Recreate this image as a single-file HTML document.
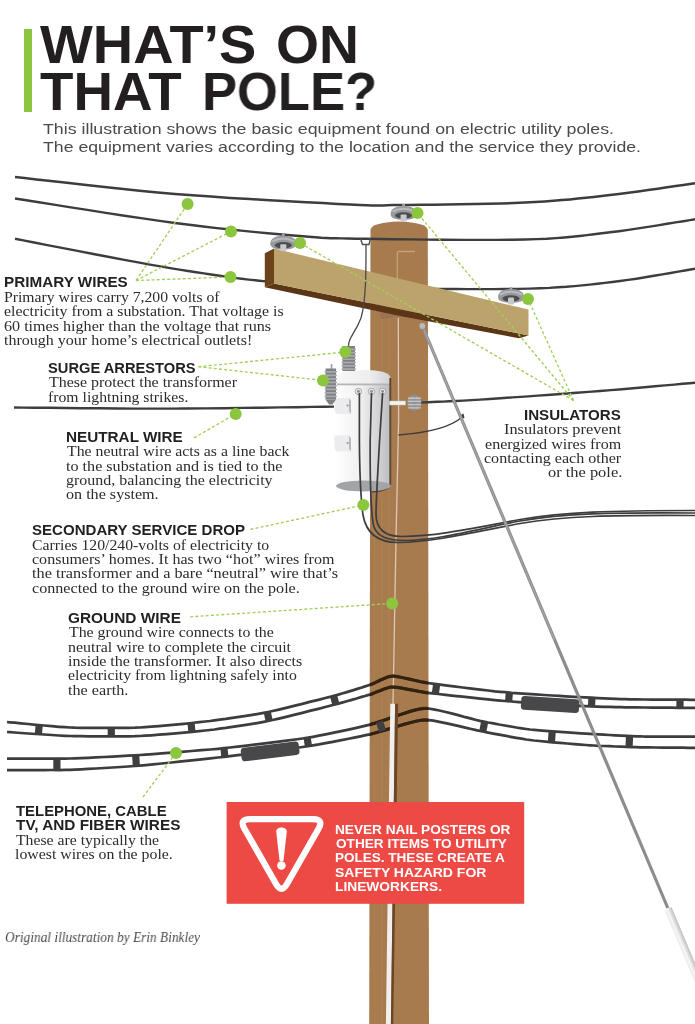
<!DOCTYPE html>
<html><head><meta charset="utf-8"><title>What's on that pole?</title>
<style>html,body{margin:0;padding:0;background:#fff}#wrap{position:relative;width:695px;height:1024px;overflow:hidden;background:#fff}</style>
</head><body><div id="wrap">
<svg width="695" height="1024" viewBox="0 0 695 1024" style="position:absolute;left:0;top:0"><defs><linearGradient id="tgrad" x1="0" x2="1" y1="0" y2="0">
<stop offset="0" stop-color="#fdfdfd"/><stop offset="0.45" stop-color="#f0f0f1"/><stop offset="1" stop-color="#bcbdc0"/></linearGradient>
<clipPath id="poleclip"><path d="M369.2,1024 L370.5,222 L427.8,222 L429,1024 Z"/></clipPath><linearGradient id="tgrad2" x1="0" x2="1" y1="0" y2="0"><stop offset="0" stop-color="#f7f7f8"/><stop offset="0.6" stop-color="#eeeeef"/><stop offset="1" stop-color="#d2d2d4"/></linearGradient></defs><path d="M369.2,1024 L370.5,230 Q371,222.5 399,221.5 Q427,222.5 427.8,230 L429,1024 Z" fill="#a87b4e"/><path d="M15.0,177.0 L24.5,178.0 L36.5,179.4 L50.8,181.0 L66.8,182.8 L84.1,184.8 L102.2,186.8 L120.9,188.8 L139.5,190.7 L157.7,192.4 L175.0,193.9 L192.5,195.3 L211.0,196.6 L230.3,197.9 L249.9,199.1 L269.4,200.2 L288.3,201.3 L306.2,202.3 L322.8,203.1 L337.5,203.9 L350.0,204.5 L359.7,205.0 L366.8,205.3 L371.8,205.5 L375.4,205.6 L378.1,205.6 L380.6,205.5 L383.4,205.4 L387.2,205.2 L392.5,205.1 L400.0,205.0 L409.6,204.9 L420.8,204.8 L433.2,204.7 L446.5,204.5 L460.3,204.3 L474.3,204.1 L488.1,203.8 L501.4,203.5 L513.8,203.1 L525.0,202.6 L535.1,202.1 L544.6,201.5 L553.4,200.8 L561.9,200.1 L570.0,199.4 L577.9,198.6 L585.8,197.7 L593.6,196.9 L601.7,195.9 L610.0,195.0 L618.9,193.9 L628.4,192.7 L638.2,191.4 L648.1,190.1 L657.8,188.7 L667.1,187.3 L675.7,186.1 L683.4,185.0 L689.9,184.0 L695.0,183.3" fill="none" stroke="#3d3d3e" stroke-width="2.5" stroke-linecap="butt"/><path d="M15.0,198.5 L24.7,200.0 L37.3,202.0 L52.3,204.4 L69.2,207.1 L87.2,209.9 L105.8,212.9 L124.5,215.7 L142.7,218.4 L159.7,220.9 L175.0,223.0 L189.2,224.8 L203.2,226.5 L216.9,228.1 L230.4,229.5 L243.4,230.9 L255.9,232.1 L267.9,233.2 L279.3,234.2 L290.0,235.2 L300.0,236.0 L308.6,236.7 L315.5,237.2 L321.2,237.7 L326.2,238.0 L330.9,238.2 L335.7,238.3 L341.2,238.4 L347.8,238.5 L355.9,238.7 L366.0,238.8 L378.5,239.0 L393.0,239.2 L409.2,239.4 L426.5,239.6 L444.3,239.8 L462.3,239.9 L479.8,239.9 L496.4,239.9 L511.7,239.8 L525.0,239.5 L536.5,239.1 L546.7,238.7 L555.9,238.1 L564.3,237.5 L572.1,236.8 L579.6,236.0 L586.8,235.1 L594.2,234.2 L601.8,233.3 L610.0,232.3 L618.9,231.2 L628.4,229.9 L638.2,228.4 L648.1,226.9 L657.8,225.4 L667.1,223.8 L675.7,222.4 L683.4,221.2 L689.9,220.1 L695.0,219.3" fill="none" stroke="#3d3d3e" stroke-width="2.4" stroke-linecap="butt"/><rect x="373.8" y="300" width="1.6" height="724" fill="#b38655" opacity="0.45"/><rect x="381" y="300" width="1.6" height="724" fill="#b38655" opacity="0.45"/><rect x="388" y="300" width="1.6" height="724" fill="#b38655" opacity="0.45"/><path d="M370.5,276 L427.8,290 L427.8,318 L370.5,305 Z" fill="#9c6e44"/><path d="M397.3,285 L397.3,252.5 Q397.3,251.5 399,251.5 L415,251.5" fill="none" stroke="#c4a07c" stroke-width="1.3"/><path d="M380.5,310 L398.8,313.5 L398.8,316.5 L380.5,319.3 Z" fill="#9a7452"/><rect x="402.3" y="204.0" width="2.6" height="4" fill="#a5a6a9"/><path d="M390.6,214.5 Q390.6,206.0 403.6,206.0 Q416.6,206.0 416.6,214.5 Q416.6,219.5 403.6,220.0 Q390.6,219.5 390.6,214.5 Z" fill="#98999d"/><path d="M392.6,211.5 Q403.6,206.0 414.6,211.5" fill="none" stroke="#b9babd" stroke-width="2"/><ellipse cx="403.6" cy="215.5" rx="8.5" ry="3.2" fill="#4c4d50"/><rect x="400.6" y="214.5" width="6" height="7" rx="1" fill="#c8c9cc"/><path d="M15.0,238.8 L23.3,240.4 L34.2,242.5 L47.3,245.1 L61.9,247.9 L77.5,250.9 L93.4,254.0 L109.3,257.0 L124.3,259.9 L138.1,262.4 L150.0,264.6 L160.4,266.4 L170.2,268.1 L179.4,269.6 L188.1,271.0 L196.2,272.3 L203.9,273.4 L211.1,274.5 L217.9,275.5 L224.4,276.4 L230.5,277.3 L236.3,278.1 L241.7,278.8 L246.6,279.4 L251.1,279.9 L255.3,280.3 L259.0,280.7 L262.3,281.0 L265.3,281.2 L267.8,281.5 L270.0,281.7" fill="none" stroke="#3d3d3e" stroke-width="2.4" stroke-linecap="butt"/><path d="M430.0,289.0 L436.7,289.0 L445.4,289.0 L455.9,289.0 L467.5,289.1 L480.0,289.1 L492.9,289.1 L505.7,289.0 L518.2,288.9 L529.7,288.6 L540.0,288.3 L549.2,287.9 L558.0,287.3 L566.4,286.8 L574.4,286.1 L582.2,285.4 L589.8,284.6 L597.3,283.8 L604.8,282.9 L612.3,282.0 L620.0,281.0 L628.0,279.9 L636.5,278.7 L645.2,277.3 L654.0,275.8 L662.5,274.4 L670.6,273.0 L678.2,271.6 L684.9,270.5 L690.6,269.5 L695.0,268.7" fill="none" stroke="#3d3d3e" stroke-width="2.4" stroke-linecap="butt"/><path d="M264.8,253.2 L274,248.6 L274,283.5 L264.8,287.3 Z" fill="#6b4219"/><path d="M264.8,287.3 L274,283.5 L528.5,335.5 L519,338.3 L400,316 Z" fill="#5a3616"/><path d="M274,248.6 L528.5,309.6 L528.5,335.5 L274,283.5 Z" fill="#bba36b"/><rect x="282.0" y="233.8" width="2.6" height="4" fill="#a5a6a9"/><path d="M270.3,244.3 Q270.3,235.8 283.3,235.8 Q296.3,235.8 296.3,244.3 Q296.3,249.3 283.3,249.8 Q270.3,249.3 270.3,244.3 Z" fill="#98999d"/><path d="M272.3,241.3 Q283.3,235.8 294.3,241.3" fill="none" stroke="#b9babd" stroke-width="2"/><ellipse cx="283.3" cy="245.3" rx="8.5" ry="3.2" fill="#4c4d50"/><rect x="280.3" y="244.3" width="6" height="7" rx="1" fill="#c8c9cc"/><rect x="509.7" y="287.0" width="2.6" height="4" fill="#a5a6a9"/><path d="M498,297.5 Q498,289.0 511,289.0 Q524,289.0 524,297.5 Q524,302.5 511,303.0 Q498,302.5 498,297.5 Z" fill="#98999d"/><path d="M500,294.5 Q511,289.0 522,294.5" fill="none" stroke="#b9babd" stroke-width="2"/><ellipse cx="511" cy="298.5" rx="8.5" ry="3.2" fill="#4c4d50"/><rect x="508" y="297.5" width="6" height="7" rx="1" fill="#c8c9cc"/><path d="M360.5,238.5 L362.5,244.5 L369,244.5 L370.5,238.5" fill="none" stroke="#505050" stroke-width="1.4"/><path d="M366,245 C366,275 366,300 361,318 C355,334 348,338 348.5,346" fill="none" stroke="#4a4a4a" stroke-width="1.3"/><path d="M14.0,407.5 L23.2,407.6 L35.1,407.7 L49.1,407.8 L64.8,408.0 L81.8,408.2 L99.5,408.3 L117.7,408.5 L135.8,408.6 L153.4,408.6 L170.0,408.6 L186.8,408.5 L204.9,408.4 L223.8,408.2 L242.9,407.9 L261.8,407.7 L279.8,407.4 L296.6,407.2 L311.6,406.9 L324.2,406.7 L334.0,406.6" fill="none" stroke="#3d3d3e" stroke-width="2.4" stroke-linecap="butt"/><path d="M421.0,402.5 L424.2,402.4 L428.0,402.2 L432.4,402.0 L437.4,401.8 L443.0,401.6 L449.2,401.3 L456.0,401.0 L463.4,400.6 L471.4,400.1 L480.0,399.6 L489.6,399.0 L500.5,398.2 L512.3,397.4 L524.8,396.6 L537.8,395.6 L550.9,394.7 L563.9,393.7 L576.6,392.8 L588.7,391.9 L600.0,391.0 L610.9,390.1 L622.1,389.2 L633.3,388.2 L644.4,387.3 L655.0,386.3 L665.0,385.4 L674.3,384.6 L682.5,383.8 L689.5,383.2 L695.0,382.7" fill="none" stroke="#3d3d3e" stroke-width="2.4" stroke-linecap="butt"/><path d="M398.3,318 L398.6,420 L396,540 L393,704" fill="none" stroke="#dcc8b4" stroke-width="1.3"/><rect x="337" y="376" width="53" height="110" fill="url(#tgrad)"/><path d="M336.5,384.5 L336.5,378 Q337,370 363.5,370 Q390,370 390.5,378 L390.5,384.5 Z" fill="url(#tgrad2)"/><rect x="337" y="383.5" width="53" height="1.8" fill="#b5b5b8"/><path d="M390.3,378 L390.3,484 Q390,490.5 372,491.8" fill="none" stroke="#5e4632" stroke-width="1.9"/><ellipse cx="363.5" cy="486" rx="27.5" ry="5.5" fill="#a3a4a7"/><circle cx="358.4" cy="391.4" r="3.2" fill="#e9e9eb" stroke="#9a9a9c" stroke-width="0.8"/><circle cx="358.4" cy="391.4" r="1.4" fill="#8a8a8d"/><circle cx="371.5" cy="391.4" r="3.2" fill="#e9e9eb" stroke="#9a9a9c" stroke-width="0.8"/><circle cx="371.5" cy="391.4" r="1.4" fill="#8a8a8d"/><circle cx="382.6" cy="391.4" r="3.2" fill="#e9e9eb" stroke="#9a9a9c" stroke-width="0.8"/><circle cx="382.6" cy="391.4" r="1.4" fill="#8a8a8d"/><path d="M334.5,398 L349,398 L351,401 L351,414 L336.5,414 L334.5,411 Z" fill="#ececee"/><path d="M349,398 L351,401 L351,414 L349,411 Z" fill="#b9b9bc"/><circle cx="347.6" cy="405.5" r="1" fill="#8a8a8d"/><path d="M334.5,435.5 L349,435.5 L351,438.5 L351,451.5 L336.5,451.5 L334.5,448.5 Z" fill="#ececee"/><path d="M349,435.5 L351,438.5 L351,451.5 L349,448.5 Z" fill="#b9b9bc"/><circle cx="347.6" cy="443.0" r="1" fill="#8a8a8d"/><rect x="342.5" y="346" width="12.5" height="25" fill="#7f8084"/><rect x="341.5" y="348.5" width="14.5" height="1.7" rx="0.8" fill="#a9aaad"/><rect x="341.5" y="351.8" width="14.5" height="1.7" rx="0.8" fill="#a9aaad"/><rect x="341.5" y="355.1" width="14.5" height="1.7" rx="0.8" fill="#a9aaad"/><rect x="341.5" y="358.4" width="14.5" height="1.7" rx="0.8" fill="#a9aaad"/><rect x="341.5" y="361.7" width="14.5" height="1.7" rx="0.8" fill="#a9aaad"/><rect x="341.5" y="365.0" width="14.5" height="1.7" rx="0.8" fill="#a9aaad"/><rect x="341.5" y="368.3" width="14.5" height="1.7" rx="0.8" fill="#a9aaad"/><rect x="330.7" y="364" width="1.6" height="5" fill="#9a9a9c"/><rect x="325.5" y="368.5" width="10.5" height="31" fill="#808185"/><rect x="324.5" y="371.0" width="12.5" height="1.7" rx="0.8" fill="#a9aaad"/><rect x="324.5" y="374.5" width="12.5" height="1.7" rx="0.8" fill="#a9aaad"/><rect x="324.5" y="378.0" width="12.5" height="1.7" rx="0.8" fill="#a9aaad"/><rect x="324.5" y="381.5" width="12.5" height="1.7" rx="0.8" fill="#a9aaad"/><rect x="324.5" y="385.0" width="12.5" height="1.7" rx="0.8" fill="#a9aaad"/><rect x="324.5" y="388.5" width="12.5" height="1.7" rx="0.8" fill="#a9aaad"/><rect x="324.5" y="392.0" width="12.5" height="1.7" rx="0.8" fill="#a9aaad"/><rect x="324.5" y="395.5" width="12.5" height="1.7" rx="0.8" fill="#a9aaad"/><path d="M325.5,399.5 L336,399.5 L332.5,404.5 L329,404.5 Z" fill="#808185"/><rect x="389.5" y="401" width="16" height="4" fill="#f3f3f3" stroke="#c4c4c6" stroke-width="0.5"/><ellipse cx="414.4" cy="402.6" rx="7" ry="7.6" fill="#96979b"/><rect x="413.4" y="394" width="2" height="17.5" fill="#8a8b8f"/><rect x="407.8" y="397.6" width="13.2" height="1.3" rx="0.6" fill="#c4c5c8"/><rect x="407.8" y="400.8" width="13.2" height="1.3" rx="0.6" fill="#c4c5c8"/><rect x="407.8" y="404.0" width="13.2" height="1.3" rx="0.6" fill="#c4c5c8"/><rect x="407.8" y="407.2" width="13.2" height="1.3" rx="0.6" fill="#c4c5c8"/><path d="M359.4,393 L359.4,440 C359.6,475 361,500 363,515 C366,532 376,542.5 398,542.5 C435,542 475,532 520,523.5 C565,516 610,515 695,515.5" fill="none" stroke="#3d3d3e" stroke-width="1.7"/><path d="M371.5,393 L370.2,440 C370,480 370.5,515 374,527 C378,537 388,540.5 405,540.5 C440,540 478,529 520,521 C565,513 610,512.5 695,513" fill="none" stroke="#3d3d3e" stroke-width="1.7"/><path d="M382.6,393 L379.6,440 C378,470 376,500 376,514 C376,528 383,536.5 402,536.5 C440,536 478,527 520,519.5 C565,512 610,510.5 695,510.5" fill="none" stroke="#3d3d3e" stroke-width="1.7"/><path d="M398.5,435 C425,433 450,428 462,417" fill="none" stroke="#3d3d3e" stroke-width="1.3"/><path d="M460,415.5 L463.5,413.5 L464.5,418 L461,419 Z" fill="#3d3d3e"/><path d="M7.0,722.0 L9.9,722.3 L14.7,722.7 L20.9,723.3 L28.1,724.0 L35.9,724.8 L43.9,725.5 L51.7,726.2 L58.9,726.8 L65.2,727.2 L70.0,727.5 L74.8,727.7 L81.0,727.8 L88.3,727.9 L96.4,727.9 L104.7,727.9 L113.1,727.9 L121.2,727.9 L128.6,727.8 L135.0,727.7 L140.0,727.5 L145.0,727.2 L151.4,726.7 L158.9,726.1 L167.0,725.4 L175.4,724.6 L183.9,723.8 L191.9,723.0 L199.1,722.2 L205.3,721.5 L210.0,721.0 L214.4,720.4 L219.7,719.7 L225.8,718.9 L232.3,717.9 L239.1,716.9 L245.9,715.8 L252.4,714.8 L258.4,713.8 L263.7,712.8 L268.0,712.0 L272.6,711.0 L278.8,709.6 L286.1,707.8 L294.0,705.9 L302.4,703.8 L310.6,701.7 L318.4,699.8 L325.3,698.0 L331.0,696.6 L335.0,695.5 L338.3,694.6 L342.0,693.5 L346.0,692.4 L350.1,691.1 L354.2,689.9 L358.1,688.6 L361.8,687.5 L365.1,686.4 L367.9,685.5 L370.0,684.8 L371.9,684.1 L373.9,683.2 L376.2,682.1 L378.6,681.0 L381.1,679.8 L383.5,678.7 L385.9,677.7 L388.2,676.9 L390.3,676.3 L392.2,676.1 L394.3,676.2 L397.1,676.6 L400.5,677.2 L404.2,678.0 L408.2,678.9 L412.4,679.8 L416.6,680.8 L420.7,681.7 L424.5,682.4 L428.0,683.0 L432.3,683.6 L438.3,684.4 L445.6,685.3 L453.9,686.4 L462.7,687.5 L471.6,688.6 L480.2,689.6 L488.1,690.5 L494.8,691.3 L500.0,691.8 L505.1,692.2 L511.5,692.8 L519.0,693.3 L527.2,693.9 L535.6,694.4 L544.0,695.0 L552.1,695.5 L559.3,695.9 L565.4,696.3 L570.0,696.6 L574.2,696.8 L579.3,697.1 L585.0,697.4 L591.2,697.7 L597.5,698.1 L603.8,698.4 L610.0,698.6 L615.7,698.9 L620.8,699.1 L625.0,699.2 L629.8,699.3 L636.4,699.4 L644.3,699.5 L653.0,699.5 L662.1,699.6 L670.9,699.7 L679.2,699.7 L686.2,699.7 L691.7,699.8 L695.0,699.8" fill="none" stroke="#3d3d3e" stroke-width="2.75" stroke-linejoin="round"/><path d="M7.0,732.0 L9.9,732.2 L14.7,732.5 L20.9,733.0 L28.1,733.5 L35.9,734.0 L43.9,734.5 L51.7,735.0 L58.9,735.5 L65.2,735.8 L70.0,736.0 L74.8,736.1 L81.0,736.2 L88.3,736.3 L96.4,736.3 L104.7,736.4 L113.1,736.4 L121.2,736.3 L128.6,736.3 L135.0,736.2 L140.0,736.0 L145.0,735.7 L151.4,735.3 L158.9,734.7 L167.0,734.1 L175.4,733.3 L183.9,732.6 L191.9,731.8 L199.1,731.1 L205.3,730.5 L210.0,730.0 L214.4,729.5 L219.7,728.7 L225.8,727.9 L232.3,726.9 L239.1,725.9 L245.9,724.8 L252.4,723.8 L258.4,722.8 L263.7,721.8 L268.0,721.0 L272.6,720.0 L278.8,718.6 L286.1,716.8 L294.0,714.9 L302.4,712.8 L310.6,710.7 L318.4,708.8 L325.3,707.0 L331.0,705.5 L335.0,704.5 L338.3,703.6 L342.0,702.6 L346.0,701.5 L350.1,700.3 L354.2,699.2 L358.1,698.0 L361.8,696.9 L365.1,696.0 L367.9,695.1 L370.0,694.5 L371.9,693.9 L373.9,693.1 L376.2,692.1 L378.6,691.2 L381.1,690.2 L383.5,689.2 L385.9,688.4 L388.2,687.7 L390.3,687.2 L392.2,687.0 L394.3,687.1 L397.1,687.4 L400.5,687.9 L404.2,688.6 L408.2,689.3 L412.4,690.1 L416.6,690.9 L420.7,691.7 L424.5,692.3 L428.0,692.8 L432.3,693.3 L438.3,694.0 L445.6,694.8 L453.9,695.8 L462.7,696.7 L471.6,697.7 L480.2,698.6 L488.1,699.4 L494.8,700.1 L500.0,700.6 L505.1,701.0 L511.5,701.5 L519.0,702.1 L527.2,702.7 L535.6,703.3 L544.0,703.9 L552.1,704.4 L559.3,704.9 L565.4,705.2 L570.0,705.5 L574.2,705.7 L579.3,705.9 L585.0,706.1 L591.2,706.4 L597.5,706.6 L603.8,706.8 L610.0,706.9 L615.7,707.1 L620.8,707.2 L625.0,707.3 L629.8,707.4 L636.4,707.4 L644.3,707.5 L653.0,707.6 L662.1,707.7 L670.9,707.7 L679.2,707.8 L686.2,707.8 L691.7,707.9 L695.0,707.9" fill="none" stroke="#3d3d3e" stroke-width="2.75" stroke-linejoin="round"/><g clip-path="url(#poleclip)"><path d="M7.0,722.0 L9.9,722.3 L14.7,722.7 L20.9,723.3 L28.1,724.0 L35.9,724.8 L43.9,725.5 L51.7,726.2 L58.9,726.8 L65.2,727.2 L70.0,727.5 L74.8,727.7 L81.0,727.8 L88.3,727.9 L96.4,727.9 L104.7,727.9 L113.1,727.9 L121.2,727.9 L128.6,727.8 L135.0,727.7 L140.0,727.5 L145.0,727.2 L151.4,726.7 L158.9,726.1 L167.0,725.4 L175.4,724.6 L183.9,723.8 L191.9,723.0 L199.1,722.2 L205.3,721.5 L210.0,721.0 L214.4,720.4 L219.7,719.7 L225.8,718.9 L232.3,717.9 L239.1,716.9 L245.9,715.8 L252.4,714.8 L258.4,713.8 L263.7,712.8 L268.0,712.0 L272.6,711.0 L278.8,709.6 L286.1,707.8 L294.0,705.9 L302.4,703.8 L310.6,701.7 L318.4,699.8 L325.3,698.0 L331.0,696.6 L335.0,695.5 L338.3,694.6 L342.0,693.5 L346.0,692.4 L350.1,691.1 L354.2,689.9 L358.1,688.6 L361.8,687.5 L365.1,686.4 L367.9,685.5 L370.0,684.8 L371.9,684.1 L373.9,683.2 L376.2,682.1 L378.6,681.0 L381.1,679.8 L383.5,678.7 L385.9,677.7 L388.2,676.9 L390.3,676.3 L392.2,676.1 L394.3,676.2 L397.1,676.6 L400.5,677.2 L404.2,678.0 L408.2,678.9 L412.4,679.8 L416.6,680.8 L420.7,681.7 L424.5,682.4 L428.0,683.0 L432.3,683.6 L438.3,684.4 L445.6,685.3 L453.9,686.4 L462.7,687.5 L471.6,688.6 L480.2,689.6 L488.1,690.5 L494.8,691.3 L500.0,691.8 L505.1,692.2 L511.5,692.8 L519.0,693.3 L527.2,693.9 L535.6,694.4 L544.0,695.0 L552.1,695.5 L559.3,695.9 L565.4,696.3 L570.0,696.6 L574.2,696.8 L579.3,697.1 L585.0,697.4 L591.2,697.7 L597.5,698.1 L603.8,698.4 L610.0,698.6 L615.7,698.9 L620.8,699.1 L625.0,699.2 L629.8,699.3 L636.4,699.4 L644.3,699.5 L653.0,699.5 L662.1,699.6 L670.9,699.7 L679.2,699.7 L686.2,699.7 L691.7,699.8 L695.0,699.8" fill="none" stroke="#33220f" stroke-width="3.2"/><path d="M7.0,732.0 L9.9,732.2 L14.7,732.5 L20.9,733.0 L28.1,733.5 L35.9,734.0 L43.9,734.5 L51.7,735.0 L58.9,735.5 L65.2,735.8 L70.0,736.0 L74.8,736.1 L81.0,736.2 L88.3,736.3 L96.4,736.3 L104.7,736.4 L113.1,736.4 L121.2,736.3 L128.6,736.3 L135.0,736.2 L140.0,736.0 L145.0,735.7 L151.4,735.3 L158.9,734.7 L167.0,734.1 L175.4,733.3 L183.9,732.6 L191.9,731.8 L199.1,731.1 L205.3,730.5 L210.0,730.0 L214.4,729.5 L219.7,728.7 L225.8,727.9 L232.3,726.9 L239.1,725.9 L245.9,724.8 L252.4,723.8 L258.4,722.8 L263.7,721.8 L268.0,721.0 L272.6,720.0 L278.8,718.6 L286.1,716.8 L294.0,714.9 L302.4,712.8 L310.6,710.7 L318.4,708.8 L325.3,707.0 L331.0,705.5 L335.0,704.5 L338.3,703.6 L342.0,702.6 L346.0,701.5 L350.1,700.3 L354.2,699.2 L358.1,698.0 L361.8,696.9 L365.1,696.0 L367.9,695.1 L370.0,694.5 L371.9,693.9 L373.9,693.1 L376.2,692.1 L378.6,691.2 L381.1,690.2 L383.5,689.2 L385.9,688.4 L388.2,687.7 L390.3,687.2 L392.2,687.0 L394.3,687.1 L397.1,687.4 L400.5,687.9 L404.2,688.6 L408.2,689.3 L412.4,690.1 L416.6,690.9 L420.7,691.7 L424.5,692.3 L428.0,692.8 L432.3,693.3 L438.3,694.0 L445.6,694.8 L453.9,695.8 L462.7,696.7 L471.6,697.7 L480.2,698.6 L488.1,699.4 L494.8,700.1 L500.0,700.6 L505.1,701.0 L511.5,701.5 L519.0,702.1 L527.2,702.7 L535.6,703.3 L544.0,703.9 L552.1,704.4 L559.3,704.9 L565.4,705.2 L570.0,705.5 L574.2,705.7 L579.3,705.9 L585.0,706.1 L591.2,706.4 L597.5,706.6 L603.8,706.8 L610.0,706.9 L615.7,707.1 L620.8,707.2 L625.0,707.3 L629.8,707.4 L636.4,707.4 L644.3,707.5 L653.0,707.6 L662.1,707.7 L670.9,707.7 L679.2,707.8 L686.2,707.8 L691.7,707.9 L695.0,707.9" fill="none" stroke="#33220f" stroke-width="3.2"/></g><rect x="35.2" y="725.0" width="7.2" height="9.2" fill="#3f3f41" transform="rotate(5.2 38.8 729.6)"/><rect x="107.7" y="727.9" width="7.2" height="8.4" fill="#3f3f41" transform="rotate(-0.1 111.3 732.2)"/><rect x="187.9" y="723.0" width="7.2" height="8.9" fill="#3f3f41" transform="rotate(-5.7 191.5 727.4)"/><rect x="264.6" y="712.0" width="7.2" height="9.0" fill="#3f3f41" transform="rotate(-12.3 268.2 716.5)"/><rect x="331.1" y="695.6" width="7.2" height="9.0" fill="#3f3f41" transform="rotate(-14.7 334.7 700.1)"/><rect x="432.4" y="684.1" width="7.2" height="9.7" fill="#3f3f41" transform="rotate(7.5 436.0 688.9)"/><rect x="505.4" y="692.6" width="7.2" height="8.8" fill="#3f3f41" transform="rotate(4.5 509.0 696.9)"/><rect x="588.1" y="697.8" width="7.2" height="8.6" fill="#3f3f41" transform="rotate(2.8 591.7 702.1)"/><rect x="676.4" y="699.7" width="7.2" height="8.1" fill="#3f3f41" transform="rotate(0.3 680.0 703.8)"/><rect x="521.0" y="697.7" width="58.200000000000045" height="13.6" rx="3.5" fill="#48484b" transform="rotate(3.7 550.1 704.5)"/><path d="M7.0,758.6 L9.9,758.6 L14.7,758.6 L20.9,758.6 L28.1,758.7 L35.9,758.7 L43.9,758.7 L51.7,758.7 L58.9,758.6 L65.2,758.6 L70.0,758.5 L74.8,758.3 L80.9,758.1 L88.1,757.8 L96.0,757.4 L104.2,757.0 L112.5,756.6 L120.6,756.1 L128.1,755.7 L134.7,755.3 L140.0,755.0 L145.6,754.6 L153.0,754.1 L161.8,753.4 L171.4,752.7 L181.5,751.9 L191.6,751.0 L201.4,750.2 L210.3,749.5 L218.0,748.8 L224.0,748.2 L230.0,747.5 L237.8,746.7 L246.8,745.6 L256.6,744.4 L266.8,743.2 L277.0,741.9 L286.6,740.7 L295.3,739.5 L302.6,738.5 L308.0,737.7 L313.0,736.8 L318.9,735.7 L325.6,734.4 L332.8,732.9 L340.1,731.4 L347.3,729.8 L354.2,728.3 L360.5,726.9 L365.8,725.6 L370.0,724.6 L374.1,723.4 L379.1,721.8 L384.8,719.9 L391.0,717.7 L397.5,715.5 L403.9,713.4 L410.1,711.4 L415.7,709.9 L420.6,708.8 L424.5,708.3 L428.4,708.5 L433.5,709.3 L439.3,710.5 L445.7,712.0 L452.4,713.7 L459.1,715.4 L465.4,717.2 L471.2,718.7 L476.2,720.0 L480.0,720.9 L483.7,721.6 L488.2,722.5 L493.4,723.4 L499.0,724.5 L504.8,725.5 L510.7,726.5 L516.3,727.5 L521.6,728.3 L526.2,729.0 L530.0,729.5 L534.1,729.9 L539.4,730.4 L545.7,730.9 L552.7,731.4 L560.0,731.9 L567.3,732.4 L574.3,732.9 L580.6,733.3 L585.9,733.6 L590.0,733.9 L593.8,734.1 L598.4,734.4 L603.7,734.7 L609.3,735.0 L615.2,735.3 L621.0,735.6 L626.6,735.9 L631.8,736.1 L636.3,736.3 L640.0,736.4 L643.9,736.5 L649.2,736.5 L655.5,736.5 L662.3,736.5 L669.4,736.5 L676.3,736.5 L682.7,736.5 L688.2,736.5 L692.4,736.5 L695.0,736.5" fill="none" stroke="#3d3d3e" stroke-width="2.75" stroke-linejoin="round"/><path d="M7.0,770.0 L9.9,770.0 L14.7,770.0 L20.9,770.0 L28.1,770.0 L35.9,770.1 L43.9,770.1 L51.7,770.0 L58.9,770.0 L65.2,769.9 L70.0,769.8 L74.8,769.6 L80.9,769.3 L88.1,768.9 L96.0,768.5 L104.2,768.0 L112.5,767.5 L120.6,767.0 L128.1,766.5 L134.7,766.0 L140.0,765.6 L145.6,765.1 L153.0,764.4 L161.8,763.5 L171.4,762.5 L181.5,761.4 L191.6,760.4 L201.4,759.3 L210.3,758.3 L218.0,757.5 L224.0,756.8 L230.0,756.1 L237.8,755.2 L246.8,754.1 L256.6,752.9 L266.8,751.6 L277.0,750.3 L286.6,749.1 L295.3,748.0 L302.6,747.0 L308.0,746.2 L313.0,745.4 L318.9,744.4 L325.6,743.1 L332.8,741.8 L340.1,740.4 L347.3,739.0 L354.2,737.6 L360.5,736.3 L365.8,735.2 L370.0,734.3 L374.1,733.3 L379.1,731.8 L384.8,730.1 L391.0,728.2 L397.5,726.2 L403.9,724.4 L410.1,722.7 L415.7,721.3 L420.6,720.3 L424.5,719.9 L428.4,720.1 L433.5,720.7 L439.3,721.8 L445.7,723.1 L452.4,724.6 L459.1,726.1 L465.4,727.7 L471.2,729.0 L476.2,730.2 L480.0,731.0 L483.7,731.7 L488.2,732.6 L493.4,733.6 L499.0,734.6 L504.8,735.7 L510.7,736.8 L516.3,737.8 L521.6,738.7 L526.2,739.5 L530.0,740.0 L534.1,740.5 L539.4,741.0 L545.7,741.6 L552.7,742.3 L560.0,742.9 L567.3,743.5 L574.3,744.1 L580.6,744.6 L585.9,745.0 L590.0,745.3 L593.8,745.5 L598.4,745.8 L603.7,746.0 L609.3,746.2 L615.2,746.5 L621.0,746.7 L626.6,746.9 L631.8,747.1 L636.3,747.2 L640.0,747.3 L643.9,747.4 L649.2,747.4 L655.5,747.5 L662.3,747.6 L669.4,747.6 L676.3,747.7 L682.7,747.7 L688.2,747.8 L692.4,747.8 L695.0,747.8" fill="none" stroke="#3d3d3e" stroke-width="2.75" stroke-linejoin="round"/><g clip-path="url(#poleclip)"><path d="M7.0,758.6 L9.9,758.6 L14.7,758.6 L20.9,758.6 L28.1,758.7 L35.9,758.7 L43.9,758.7 L51.7,758.7 L58.9,758.6 L65.2,758.6 L70.0,758.5 L74.8,758.3 L80.9,758.1 L88.1,757.8 L96.0,757.4 L104.2,757.0 L112.5,756.6 L120.6,756.1 L128.1,755.7 L134.7,755.3 L140.0,755.0 L145.6,754.6 L153.0,754.1 L161.8,753.4 L171.4,752.7 L181.5,751.9 L191.6,751.0 L201.4,750.2 L210.3,749.5 L218.0,748.8 L224.0,748.2 L230.0,747.5 L237.8,746.7 L246.8,745.6 L256.6,744.4 L266.8,743.2 L277.0,741.9 L286.6,740.7 L295.3,739.5 L302.6,738.5 L308.0,737.7 L313.0,736.8 L318.9,735.7 L325.6,734.4 L332.8,732.9 L340.1,731.4 L347.3,729.8 L354.2,728.3 L360.5,726.9 L365.8,725.6 L370.0,724.6 L374.1,723.4 L379.1,721.8 L384.8,719.9 L391.0,717.7 L397.5,715.5 L403.9,713.4 L410.1,711.4 L415.7,709.9 L420.6,708.8 L424.5,708.3 L428.4,708.5 L433.5,709.3 L439.3,710.5 L445.7,712.0 L452.4,713.7 L459.1,715.4 L465.4,717.2 L471.2,718.7 L476.2,720.0 L480.0,720.9 L483.7,721.6 L488.2,722.5 L493.4,723.4 L499.0,724.5 L504.8,725.5 L510.7,726.5 L516.3,727.5 L521.6,728.3 L526.2,729.0 L530.0,729.5 L534.1,729.9 L539.4,730.4 L545.7,730.9 L552.7,731.4 L560.0,731.9 L567.3,732.4 L574.3,732.9 L580.6,733.3 L585.9,733.6 L590.0,733.9 L593.8,734.1 L598.4,734.4 L603.7,734.7 L609.3,735.0 L615.2,735.3 L621.0,735.6 L626.6,735.9 L631.8,736.1 L636.3,736.3 L640.0,736.4 L643.9,736.5 L649.2,736.5 L655.5,736.5 L662.3,736.5 L669.4,736.5 L676.3,736.5 L682.7,736.5 L688.2,736.5 L692.4,736.5 L695.0,736.5" fill="none" stroke="#33220f" stroke-width="3.2"/><path d="M7.0,770.0 L9.9,770.0 L14.7,770.0 L20.9,770.0 L28.1,770.0 L35.9,770.1 L43.9,770.1 L51.7,770.0 L58.9,770.0 L65.2,769.9 L70.0,769.8 L74.8,769.6 L80.9,769.3 L88.1,768.9 L96.0,768.5 L104.2,768.0 L112.5,767.5 L120.6,767.0 L128.1,766.5 L134.7,766.0 L140.0,765.6 L145.6,765.1 L153.0,764.4 L161.8,763.5 L171.4,762.5 L181.5,761.4 L191.6,760.4 L201.4,759.3 L210.3,758.3 L218.0,757.5 L224.0,756.8 L230.0,756.1 L237.8,755.2 L246.8,754.1 L256.6,752.9 L266.8,751.6 L277.0,750.3 L286.6,749.1 L295.3,748.0 L302.6,747.0 L308.0,746.2 L313.0,745.4 L318.9,744.4 L325.6,743.1 L332.8,741.8 L340.1,740.4 L347.3,739.0 L354.2,737.6 L360.5,736.3 L365.8,735.2 L370.0,734.3 L374.1,733.3 L379.1,731.8 L384.8,730.1 L391.0,728.2 L397.5,726.2 L403.9,724.4 L410.1,722.7 L415.7,721.3 L420.6,720.3 L424.5,719.9 L428.4,720.1 L433.5,720.7 L439.3,721.8 L445.7,723.1 L452.4,724.6 L459.1,726.1 L465.4,727.7 L471.2,729.0 L476.2,730.2 L480.0,731.0 L483.7,731.7 L488.2,732.6 L493.4,733.6 L499.0,734.6 L504.8,735.7 L510.7,736.8 L516.3,737.8 L521.6,738.7 L526.2,739.5 L530.0,740.0 L534.1,740.5 L539.4,741.0 L545.7,741.6 L552.7,742.3 L560.0,742.9 L567.3,743.5 L574.3,744.1 L580.6,744.6 L585.9,745.0 L590.0,745.3 L593.8,745.5 L598.4,745.8 L603.7,746.0 L609.3,746.2 L615.2,746.5 L621.0,746.7 L626.6,746.9 L631.8,747.1 L636.3,747.2 L640.0,747.3 L643.9,747.4 L649.2,747.4 L655.5,747.5 L662.3,747.6 L669.4,747.6 L676.3,747.7 L682.7,747.7 L688.2,747.8 L692.4,747.8 L695.0,747.8" fill="none" stroke="#33220f" stroke-width="3.2"/></g><rect x="53.3" y="758.7" width="7.2" height="11.3" fill="#3f3f41" transform="rotate(-0.2 56.9 764.3)"/><rect x="132.4" y="755.3" width="7.2" height="10.7" fill="#3f3f41" transform="rotate(-3.6 136.0 760.6)"/><rect x="220.8" y="748.2" width="7.2" height="8.6" fill="#3f3f41" transform="rotate(-6.1 224.4 752.5)"/><rect x="304.2" y="737.7" width="7.2" height="8.5" fill="#3f3f41" transform="rotate(-8.6 307.8 742.0)"/><rect x="377.4" y="721.2" width="7.2" height="10.1" fill="#3f3f41" transform="rotate(-18.8 381.0 726.2)"/><rect x="480.1" y="721.6" width="7.2" height="10.1" fill="#3f3f41" transform="rotate(10.8 483.7 726.7)"/><rect x="548.2" y="731.3" width="7.2" height="10.8" fill="#3f3f41" transform="rotate(4.3 551.8 736.8)"/><rect x="625.7" y="736.0" width="7.2" height="11.0" fill="#3f3f41" transform="rotate(2.6 629.3 741.5)"/><rect x="241.0" y="744.6" width="58.30000000000001" height="13.6" rx="3.5" fill="#48484b" transform="rotate(-7.1 270.1 751.4)"/><line x1="422.3" y1="326" x2="667.8" y2="908" stroke="#8d8d90" stroke-width="3.2"/><line x1="424.0" y1="330" x2="554.7" y2="640" stroke="#a6a6a9" stroke-width="1.2"/><linearGradient id="sheath" gradientUnits="userSpaceOnUse" x1="664.46" y1="909.98" x2="671.46" y2="907.02"><stop offset="0" stop-color="#e9e9ea"/><stop offset="0.35" stop-color="#f7f7f7"/><stop offset="1" stop-color="#bdbdbf"/></linearGradient><path d="M664.46,909.98 L671.46,907.02 L726.92,1038.52 L719.92,1041.48 Z" fill="url(#sheath)"/><circle cx="422.3" cy="326" r="2.9" fill="#b3bac2"/><path d="M390.3,703.7 L395.1,703.7 L390.9,1024 L385.9,1024 Z" fill="#f2f0ee"/><path d="M395.1,703.7 L398.2,703.7 L393.2,1024 L390.9,1024 Z" fill="#6a4526"/><line x1="136" y1="280.5" x2="187.6" y2="204" stroke="#a3cf5a" stroke-width="1.35" stroke-dasharray="3,2.2"/><line x1="136" y1="280.5" x2="231" y2="231.5" stroke="#a3cf5a" stroke-width="1.35" stroke-dasharray="3,2.2"/><line x1="136" y1="280.5" x2="230.5" y2="277" stroke="#a3cf5a" stroke-width="1.35" stroke-dasharray="3,2.2"/><line x1="573.5" y1="400.5" x2="417.5" y2="213" stroke="#a3cf5a" stroke-width="1.35" stroke-dasharray="3,2.2"/><line x1="573.5" y1="400.5" x2="300" y2="243" stroke="#a3cf5a" stroke-width="1.35" stroke-dasharray="3,2.2"/><line x1="573.5" y1="400.5" x2="528" y2="299" stroke="#a3cf5a" stroke-width="1.35" stroke-dasharray="3,2.2"/><line x1="198.3" y1="366.7" x2="345.3" y2="352" stroke="#a3cf5a" stroke-width="1.35" stroke-dasharray="3,2.2"/><line x1="198.3" y1="366.7" x2="323" y2="380.4" stroke="#a3cf5a" stroke-width="1.35" stroke-dasharray="3,2.2"/><line x1="194" y1="437.8" x2="235.7" y2="413.9" stroke="#a3cf5a" stroke-width="1.35" stroke-dasharray="3,2.2"/><line x1="250.4" y1="529.4" x2="363.4" y2="505" stroke="#a3cf5a" stroke-width="1.35" stroke-dasharray="3,2.2"/><line x1="190.2" y1="616.8" x2="392.2" y2="603.4" stroke="#a3cf5a" stroke-width="1.35" stroke-dasharray="3,2.2"/><line x1="176" y1="753" x2="143" y2="797" stroke="#a3cf5a" stroke-width="1.35" stroke-dasharray="3,2.2"/><circle cx="187.6" cy="204" r="6" fill="#8cc63f"/><circle cx="231" cy="231.5" r="6" fill="#8cc63f"/><circle cx="230.5" cy="277" r="6" fill="#8cc63f"/><circle cx="417.5" cy="213" r="6" fill="#8cc63f"/><circle cx="300" cy="243" r="6" fill="#8cc63f"/><circle cx="528" cy="299" r="6" fill="#8cc63f"/><circle cx="345.3" cy="352" r="6" fill="#8cc63f"/><circle cx="323" cy="380.4" r="6" fill="#8cc63f"/><circle cx="235.7" cy="413.9" r="6" fill="#8cc63f"/><circle cx="363.4" cy="505" r="6" fill="#8cc63f"/><circle cx="392.2" cy="603.4" r="6" fill="#8cc63f"/><circle cx="176" cy="753" r="6" fill="#8cc63f"/><rect x="226.6" y="802" width="297.6" height="101.8" fill="#ed4a45"/><path d="M244.46,828.75 Q239.0,819.2 250.00,819.20 L313.00,819.20 Q324.0,819.2 318.54,828.75 L286.96,883.95 Q281.5,893.5 276.04,883.95 Z" fill="none" stroke="#fff" stroke-width="6.3" stroke-linejoin="round"/><path d="M276.2,831.5 C276.2,826.3 286.8,826.3 286.8,831.5 L283.5,860.5 Q281.5,862.3 279.5,860.5 Z" fill="#fff"/><circle cx="281.4" cy="865.5" r="4.3" fill="#fff"/></svg>
<div style="position:absolute;left:24.3px;top:28.6px;width:8px;height:83px;background:#8cc63f"></div><div style="position:absolute;left:40.00px;top:13.36px;font-family:'Liberation Sans',sans-serif;font-size:53.5px;line-height:64.2px;font-weight:bold;font-style:normal;color:#231f20;white-space:pre;will-change:transform;transform-origin:0 0;transform:scaleX(1.0454)">WHAT&#8217;S</div><div style="position:absolute;left:275.86px;top:13.36px;font-family:'Liberation Sans',sans-serif;font-size:53.5px;line-height:64.2px;font-weight:bold;font-style:normal;color:#231f20;white-space:pre;will-change:transform;transform-origin:0 0;transform:scaleX(1.0342)">ON</div><div style="position:absolute;left:40.00px;top:60.44px;font-family:'Liberation Sans',sans-serif;font-size:53px;line-height:63.6px;font-weight:bold;font-style:normal;color:#231f20;white-space:pre;will-change:transform;transform-origin:0 0;transform:scaleX(1.0322)">THAT</div><div style="position:absolute;left:201.88px;top:60.44px;font-family:'Liberation Sans',sans-serif;font-size:53px;line-height:63.6px;font-weight:bold;font-style:normal;color:#231f20;white-space:pre;will-change:transform;transform-origin:0 0;transform:scaleX(0.9915)">POLE?</div><div style="position:absolute;left:43.00px;top:120.01px;font-family:'Liberation Sans',sans-serif;font-size:15.2px;line-height:18.24px;font-weight:normal;font-style:normal;color:#4a4a4c;white-space:pre;will-change:transform;transform-origin:0 0;transform:scaleX(1.1702)">This illustration shows the basic equipment found on electric utility poles.</div><div style="position:absolute;left:43.00px;top:138.31px;font-family:'Liberation Sans',sans-serif;font-size:15.2px;line-height:18.24px;font-weight:normal;font-style:normal;color:#4a4a4c;white-space:pre;will-change:transform;transform-origin:0 0;transform:scaleX(1.1650)">The equipment varies according to the location and the service they provide.</div><div style="position:absolute;left:4.39px;top:274.28px;font-family:'Liberation Sans',sans-serif;font-size:14.6px;line-height:17.52px;font-weight:bold;font-style:normal;color:#231f20;white-space:pre;will-change:transform;transform-origin:0 0;transform:scaleX(1.0458)">PRIMARY WIRES</div><div style="position:absolute;left:4.40px;top:289.01px;font-family:'Liberation Serif',serif;font-size:14.6px;line-height:17.52px;font-weight:normal;font-style:normal;color:#2c2c2e;white-space:pre;will-change:transform;transform-origin:0 0;transform:scaleX(1.0768)">Primary wires carry 7,200 volts of</div><div style="position:absolute;left:4.40px;top:303.31px;font-family:'Liberation Serif',serif;font-size:14.6px;line-height:17.52px;font-weight:normal;font-style:normal;color:#2c2c2e;white-space:pre;will-change:transform;transform-origin:0 0;transform:scaleX(1.0876)">electricity from a substation. That voltage is</div><div style="position:absolute;left:4.39px;top:317.61px;font-family:'Liberation Serif',serif;font-size:14.6px;line-height:17.52px;font-weight:normal;font-style:normal;color:#2c2c2e;white-space:pre;will-change:transform;transform-origin:0 0;transform:scaleX(1.1035)">60 times higher than the voltage that runs</div><div style="position:absolute;left:4.39px;top:331.91px;font-family:'Liberation Serif',serif;font-size:14.6px;line-height:17.52px;font-weight:normal;font-style:normal;color:#2c2c2e;white-space:pre;will-change:transform;transform-origin:0 0;transform:scaleX(1.0977)">through your home&#8217;s electrical outlets!</div><div style="position:absolute;left:47.59px;top:359.58px;font-family:'Liberation Sans',sans-serif;font-size:14.6px;line-height:17.52px;font-weight:bold;font-style:normal;color:#231f20;white-space:pre;will-change:transform;transform-origin:0 0;transform:scaleX(1.0057)">SURGE ARRESTORS</div><div style="position:absolute;left:48.60px;top:374.31px;font-family:'Liberation Serif',serif;font-size:14.6px;line-height:17.52px;font-weight:normal;font-style:normal;color:#2c2c2e;white-space:pre;will-change:transform;transform-origin:0 0;transform:scaleX(1.0916)">These protect the transformer</div><div style="position:absolute;left:47.58px;top:388.61px;font-family:'Liberation Serif',serif;font-size:14.6px;line-height:17.52px;font-weight:normal;font-style:normal;color:#2c2c2e;white-space:pre;will-change:transform;transform-origin:0 0;transform:scaleX(1.0792)">from lightning strikes.</div><div style="position:absolute;left:66.38px;top:428.68px;font-family:'Liberation Sans',sans-serif;font-size:14.6px;line-height:17.52px;font-weight:bold;font-style:normal;color:#231f20;white-space:pre;will-change:transform;transform-origin:0 0;transform:scaleX(1.0465)">NEUTRAL WIRE</div><div style="position:absolute;left:67.40px;top:443.41px;font-family:'Liberation Serif',serif;font-size:14.6px;line-height:17.52px;font-weight:normal;font-style:normal;color:#2c2c2e;white-space:pre;will-change:transform;transform-origin:0 0;transform:scaleX(1.0826)">The neutral wire acts as a line back</div><div style="position:absolute;left:66.39px;top:457.71px;font-family:'Liberation Serif',serif;font-size:14.6px;line-height:17.52px;font-weight:normal;font-style:normal;color:#2c2c2e;white-space:pre;will-change:transform;transform-origin:0 0;transform:scaleX(1.1054)">to the substation and is tied to the</div><div style="position:absolute;left:66.39px;top:472.01px;font-family:'Liberation Serif',serif;font-size:14.6px;line-height:17.52px;font-weight:normal;font-style:normal;color:#2c2c2e;white-space:pre;will-change:transform;transform-origin:0 0;transform:scaleX(1.0941)">ground, balancing the electricity</div><div style="position:absolute;left:66.36px;top:486.31px;font-family:'Liberation Serif',serif;font-size:14.6px;line-height:17.52px;font-weight:normal;font-style:normal;color:#2c2c2e;white-space:pre;will-change:transform;transform-origin:0 0;transform:scaleX(1.1042)">on the system.</div><div style="position:absolute;left:31.99px;top:522.08px;font-family:'Liberation Sans',sans-serif;font-size:14.6px;line-height:17.52px;font-weight:bold;font-style:normal;color:#231f20;white-space:pre;will-change:transform;transform-origin:0 0;transform:scaleX(1.0314)">SECONDARY SERVICE DROP</div><div style="position:absolute;left:31.99px;top:536.81px;font-family:'Liberation Serif',serif;font-size:14.6px;line-height:17.52px;font-weight:normal;font-style:normal;color:#2c2c2e;white-space:pre;will-change:transform;transform-origin:0 0;transform:scaleX(1.0798)">Carries 120/240-volts of electricity to</div><div style="position:absolute;left:31.99px;top:551.11px;font-family:'Liberation Serif',serif;font-size:14.6px;line-height:17.52px;font-weight:normal;font-style:normal;color:#2c2c2e;white-space:pre;will-change:transform;transform-origin:0 0;transform:scaleX(1.0984)">consumers&#8217; homes. It has two &#8220;hot&#8221; wires from</div><div style="position:absolute;left:31.99px;top:565.41px;font-family:'Liberation Serif',serif;font-size:14.6px;line-height:17.52px;font-weight:normal;font-style:normal;color:#2c2c2e;white-space:pre;will-change:transform;transform-origin:0 0;transform:scaleX(1.1123)">the transformer and a bare &#8220;neutral&#8221; wire that&#8217;s</div><div style="position:absolute;left:31.99px;top:579.71px;font-family:'Liberation Serif',serif;font-size:14.6px;line-height:17.52px;font-weight:normal;font-style:normal;color:#2c2c2e;white-space:pre;will-change:transform;transform-origin:0 0;transform:scaleX(1.1051)">connected to the ground wire on the pole.</div><div style="position:absolute;left:68.38px;top:609.58px;font-family:'Liberation Sans',sans-serif;font-size:14.6px;line-height:17.52px;font-weight:bold;font-style:normal;color:#231f20;white-space:pre;will-change:transform;transform-origin:0 0;transform:scaleX(1.0560)">GROUND WIRE</div><div style="position:absolute;left:69.40px;top:624.31px;font-family:'Liberation Serif',serif;font-size:14.6px;line-height:17.52px;font-weight:normal;font-style:normal;color:#2c2c2e;white-space:pre;will-change:transform;transform-origin:0 0;transform:scaleX(1.0868)">The ground wire connects to the</div><div style="position:absolute;left:68.39px;top:638.61px;font-family:'Liberation Serif',serif;font-size:14.6px;line-height:17.52px;font-weight:normal;font-style:normal;color:#2c2c2e;white-space:pre;will-change:transform;transform-origin:0 0;transform:scaleX(1.0897)">neutral wire to complete the circuit</div><div style="position:absolute;left:68.39px;top:652.91px;font-family:'Liberation Serif',serif;font-size:14.6px;line-height:17.52px;font-weight:normal;font-style:normal;color:#2c2c2e;white-space:pre;will-change:transform;transform-origin:0 0;transform:scaleX(1.0987)">inside the transformer. It also directs</div><div style="position:absolute;left:68.39px;top:667.21px;font-family:'Liberation Serif',serif;font-size:14.6px;line-height:17.52px;font-weight:normal;font-style:normal;color:#2c2c2e;white-space:pre;will-change:transform;transform-origin:0 0;transform:scaleX(1.0815)">electricity from lightning safely into</div><div style="position:absolute;left:68.35px;top:681.51px;font-family:'Liberation Serif',serif;font-size:14.6px;line-height:17.52px;font-weight:normal;font-style:normal;color:#2c2c2e;white-space:pre;will-change:transform;transform-origin:0 0;transform:scaleX(1.1103)">the earth.</div><div style="position:absolute;left:16.20px;top:802.68px;font-family:'Liberation Sans',sans-serif;font-size:14.6px;line-height:17.52px;font-weight:bold;font-style:normal;color:#231f20;white-space:pre;will-change:transform;transform-origin:0 0;transform:scaleX(1.0205)">TELEPHONE, CABLE</div><div style="position:absolute;left:16.20px;top:817.08px;font-family:'Liberation Sans',sans-serif;font-size:14.6px;line-height:17.52px;font-weight:bold;font-style:normal;color:#231f20;white-space:pre;will-change:transform;transform-origin:0 0;transform:scaleX(1.0523)">TV, AND FIBER WIRES</div><div style="position:absolute;left:16.20px;top:831.81px;font-family:'Liberation Serif',serif;font-size:14.6px;line-height:17.52px;font-weight:normal;font-style:normal;color:#2c2c2e;white-space:pre;will-change:transform;transform-origin:0 0;transform:scaleX(1.0793)">These are typically the</div><div style="position:absolute;left:15.18px;top:846.11px;font-family:'Liberation Serif',serif;font-size:14.6px;line-height:17.52px;font-weight:normal;font-style:normal;color:#2c2c2e;white-space:pre;will-change:transform;transform-origin:0 0;transform:scaleX(1.0846)">lowest wires on the pole.</div><div style="position:absolute;left:523.79px;top:406.78px;font-family:'Liberation Sans',sans-serif;font-size:14.6px;line-height:17.52px;font-weight:bold;font-style:normal;color:#231f20;white-space:pre;will-change:transform;transform-origin:0 0;transform:scaleX(1.0354)">INSULATORS</div><div style="position:absolute;left:503.99px;top:421.11px;font-family:'Liberation Serif',serif;font-size:14.6px;line-height:17.52px;font-weight:normal;font-style:normal;color:#2c2c2e;white-space:pre;will-change:transform;transform-origin:0 0;transform:scaleX(1.1167)">Insulators prevent</div><div style="position:absolute;left:484.99px;top:435.51px;font-family:'Liberation Serif',serif;font-size:14.6px;line-height:17.52px;font-weight:normal;font-style:normal;color:#2c2c2e;white-space:pre;will-change:transform;transform-origin:0 0;transform:scaleX(1.1009)">energized wires from</div><div style="position:absolute;left:483.99px;top:449.91px;font-family:'Liberation Serif',serif;font-size:14.6px;line-height:17.52px;font-weight:normal;font-style:normal;color:#2c2c2e;white-space:pre;will-change:transform;transform-origin:0 0;transform:scaleX(1.0995)">contacting each other</div><div style="position:absolute;left:547.97px;top:464.21px;font-family:'Liberation Serif',serif;font-size:14.6px;line-height:17.52px;font-weight:normal;font-style:normal;color:#2c2c2e;white-space:pre;will-change:transform;transform-origin:0 0;transform:scaleX(1.1242)">or the pole.</div><div style="position:absolute;left:4.99px;top:928.80px;font-family:'Liberation Serif',serif;font-size:14.4px;line-height:17.28px;font-weight:normal;font-style:italic;color:#4a4a4c;white-space:pre;will-change:transform;transform-origin:0 0;transform:scaleX(0.9275)">Original illustration by Erin Binkley</div><div style="position:absolute;left:335.19px;top:822.75px;font-family:'Liberation Sans',sans-serif;font-size:12.2px;line-height:14.64px;font-weight:bold;font-style:normal;color:#ffffff;white-space:pre;will-change:transform;transform-origin:0 0;transform:scaleX(1.1180)">NEVER NAIL POSTERS OR</div><div style="position:absolute;left:336.20px;top:837.02px;font-family:'Liberation Sans',sans-serif;font-size:12.2px;line-height:14.64px;font-weight:bold;font-style:normal;color:#ffffff;white-space:pre;will-change:transform;transform-origin:0 0;transform:scaleX(1.1178)">OTHER ITEMS TO UTILITY</div><div style="position:absolute;left:335.19px;top:851.29px;font-family:'Liberation Sans',sans-serif;font-size:12.2px;line-height:14.64px;font-weight:bold;font-style:normal;color:#ffffff;white-space:pre;will-change:transform;transform-origin:0 0;transform:scaleX(1.1095)">POLES. THESE CREATE A</div><div style="position:absolute;left:335.19px;top:865.56px;font-family:'Liberation Sans',sans-serif;font-size:12.2px;line-height:14.64px;font-weight:bold;font-style:normal;color:#ffffff;white-space:pre;will-change:transform;transform-origin:0 0;transform:scaleX(1.1488)">SAFETY HAZARD FOR</div><div style="position:absolute;left:335.18px;top:879.83px;font-family:'Liberation Sans',sans-serif;font-size:12.2px;line-height:14.64px;font-weight:bold;font-style:normal;color:#ffffff;white-space:pre;will-change:transform;transform-origin:0 0;transform:scaleX(1.1291)">LINEWORKERS.</div>
</div></body></html>
